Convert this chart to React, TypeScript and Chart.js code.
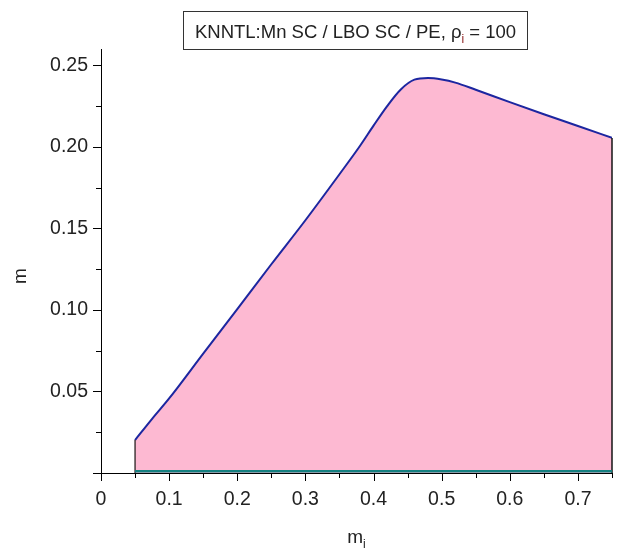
import React, { useEffect, useRef } from "react";
import { Chart, registerables } from "chart.js";

Chart.register(...registerables);

// ---- data ----
const miValues = [0.05, 0.075, 0.1, 0.15, 0.2, 0.25, 0.3, 0.35, 0.38, 0.4, 0.42, 0.44, 0.46, 0.48, 0.5, 0.52, 0.55, 0.6, 0.65, 0.7, 0.75];
const mUpper = [0.0202, 0.0332, 0.0457, 0.0732, 0.1005, 0.128, 0.155, 0.1832, 0.2005, 0.213, 0.225, 0.2352, 0.2412, 0.2422, 0.2413, 0.2394, 0.235, 0.2274, 0.22, 0.2128, 0.2055];
const lowerX = [0.05, 0.75];
const lowerY = [0.001, 0.001];
const leftEdgeX = [0.05, 0.05];
const leftEdgeY = [0, 0.0202];
const rightEdgeX = [0.75, 0.75];
const rightEdgeY = [0, 0.2055];

const xMajorTicks = [0, 0.1, 0.2, 0.3, 0.4, 0.5, 0.6, 0.7];
const xTickLabels = ["0", "0.1", "0.2", "0.3", "0.4", "0.5", "0.6", "0.7"];
const xMinorTicks = [0.05, 0.15, 0.25, 0.35, 0.45, 0.55, 0.65, 0.75];
const yMajorTicks = [0, 0.05, 0.1, 0.15, 0.2, 0.25];
const yTickLabels = ["", "0.05", "0.10", "0.15", "0.20", "0.25"];
const yMinorTicks = [0.025, 0.075, 0.125, 0.175, 0.225];

const titleMain = "KNNTL:Mn SC / LBO SC / PE, ρ";
const titleSub = "i";
const titleEnd = " = 100";
const xTitle = "m";
const xTitleSub = "i";
const yTitle = "m";

const FONT = "'Liberation Sans', Arial, sans-serif";

const pts = (xs: number[], ys: number[]) => xs.map((x, i) => ({ x, y: ys[i] }));

const labelFor = (vals: number[], labels: string[], v: number) => {
  for (let i = 0; i < vals.length; i++) if (Math.abs(vals[i] - v) < 1e-9) return labels[i];
  return "";
};

const decorPlugin = {
  id: "decor",
  afterDraw(chart: any) {
    const ctx = chart.ctx;
    const xs = chart.scales.x;
    const ys = chart.scales.y;
    const { left, bottom } = chart.chartArea;
    ctx.save();
    ctx.strokeStyle = "#000";
    ctx.lineWidth = 1;
    ctx.beginPath();
    yMajorTicks.forEach((v) => {
      const y = Math.round(ys.getPixelForValue(v)) + 0.5;
      ctx.moveTo(left - 8, y);
      ctx.lineTo(left, y);
    });
    yMinorTicks.forEach((v) => {
      const y = Math.round(ys.getPixelForValue(v)) + 0.5;
      ctx.moveTo(left - 5, y);
      ctx.lineTo(left, y);
    });
    xMajorTicks.forEach((v) => {
      const x = Math.round(xs.getPixelForValue(v)) + 0.5;
      ctx.moveTo(x, bottom);
      ctx.lineTo(x, bottom + 8);
    });
    xMinorTicks.forEach((v) => {
      const x = Math.round(xs.getPixelForValue(v)) + 0.5;
      ctx.moveTo(x, bottom);
      ctx.lineTo(x, bottom + 5);
    });
    ctx.stroke();

    // title box
    ctx.strokeStyle = "#333";
    ctx.strokeRect(183.5, 11.5, 344, 38);
    const mainFont = `18.5px ${FONT}`;
    const subFont = `12px ${FONT}`;
    ctx.font = mainFont;
    const w1 = ctx.measureText(titleMain).width;
    const w3 = ctx.measureText(titleEnd).width;
    ctx.font = subFont;
    const w2 = ctx.measureText(titleSub).width;
    const total = w1 + w2 + w3;
    let tx = 355.5 - total / 2;
    const base = 37.5;
    ctx.textBaseline = "alphabetic";
    ctx.textAlign = "left";
    ctx.fillStyle = "#222";
    ctx.font = mainFont;
    ctx.fillText(titleMain, tx, base);
    tx += w1;
    ctx.font = subFont;
    ctx.fillStyle = "#8b1a1a";
    ctx.fillText(titleSub, tx, base + 5);
    tx += w2;
    ctx.font = mainFont;
    ctx.fillStyle = "#222";
    ctx.fillText(titleEnd, tx, base);

    // x title
    const cx = (chart.chartArea.left + chart.chartArea.right) / 2;
    ctx.font = `19px ${FONT}`;
    const mw = ctx.measureText(xTitle).width;
    ctx.font = `12px ${FONT}`;
    const sw = ctx.measureText(xTitleSub).width;
    const ax = cx - (mw + sw) / 2;
    ctx.fillStyle = "#222";
    ctx.font = `19px ${FONT}`;
    ctx.fillText(xTitle, ax, 543);
    ctx.font = `12px ${FONT}`;
    ctx.fillText(xTitleSub, ax + mw, 548);

    // y title
    ctx.translate(26, 276);
    ctx.rotate(-Math.PI / 2);
    ctx.font = `19px ${FONT}`;
    ctx.textAlign = "center";
    ctx.fillText(yTitle, 0, 0);
    ctx.restore();
  },
};

export default function App() {
  const ref = useRef<HTMLCanvasElement>(null);
  useEffect(() => {
    if (!ref.current) return;
    const chart = new Chart(ref.current, {
      type: "line",
      data: {
        datasets: [
          {
            data: pts(miValues, mUpper),
            borderColor: "rgb(28,38,160)",
            backgroundColor: "rgb(253,185,210)",
            borderWidth: 2,
            pointRadius: 0,
            fill: "origin",
            cubicInterpolationMode: "monotone",
            order: 2,
          },
          {
            data: pts(lowerX, lowerY),
            borderColor: "rgb(20,128,128)",
            borderWidth: 2.5,
            pointRadius: 0,
            fill: false,
            order: 1,
          },
          {
            data: pts(leftEdgeX, leftEdgeY),
            borderColor: "rgb(70,58,60)",
            borderWidth: 1.5,
            pointRadius: 0,
            fill: false,
            clip: false,
            order: 1,
          },
          {
            data: pts(rightEdgeX, rightEdgeY),
            borderColor: "rgb(20,20,20)",
            borderWidth: 1.5,
            pointRadius: 0,
            fill: false,
            clip: false,
            order: 1,
          },
        ] as any,
      },
      options: {
        animation: false,
        responsive: false,
        events: [],
        layout: { padding: { left: 0, right: 7, top: 49, bottom: 0 } },
        plugins: { legend: { display: false }, tooltip: { enabled: false }, title: { display: false } },
        scales: {
          x: {
            type: "linear",
            min: 0,
            max: 0.75,
            grid: { display: true, drawOnChartArea: false, drawTicks: false },
            border: { display: true, color: "#000", width: 1 },
            ticks: {
              stepSize: 0.05,
              includeBounds: false,
              autoSkip: false,
              maxRotation: 0,
              padding: 15,
              color: "#222",
              font: { family: FONT, size: 19.5 },
              callback: (v: any) => labelFor(xMajorTicks, xTickLabels, Number(v)),
            },
            afterFit: (s: any) => {
              s.height = 81;
              s.paddingLeft = 0;
              s.paddingRight = 0;
            },
          },
          y: {
            type: "linear",
            min: 0,
            max: 0.26,
            grid: { display: true, drawOnChartArea: false, drawTicks: false },
            border: { display: true, color: "#000", width: 1 },
            ticks: {
              stepSize: 0.025,
              includeBounds: false,
              autoSkip: false,
              padding: 13,
              color: "#222",
              font: { family: FONT, size: 19.5 },
              callback: (v: any) => labelFor(yMajorTicks, yTickLabels, Number(v)),
            },
            afterFit: (s: any) => {
              s.width = 101;
              s.paddingTop = 0;
              s.paddingBottom = 0;
            },
          },
        },
      } as any,
      plugins: [decorPlugin],
    });
    return () => chart.destroy();
  }, []);
  return (
    <div style={{ position: "fixed", left: 0, top: 0, width: 619, height: 554, background: "#fff" }}>
      <canvas ref={ref} width={619} height={554} style={{ width: 619, height: 554 }} />
    </div>
  );
}
